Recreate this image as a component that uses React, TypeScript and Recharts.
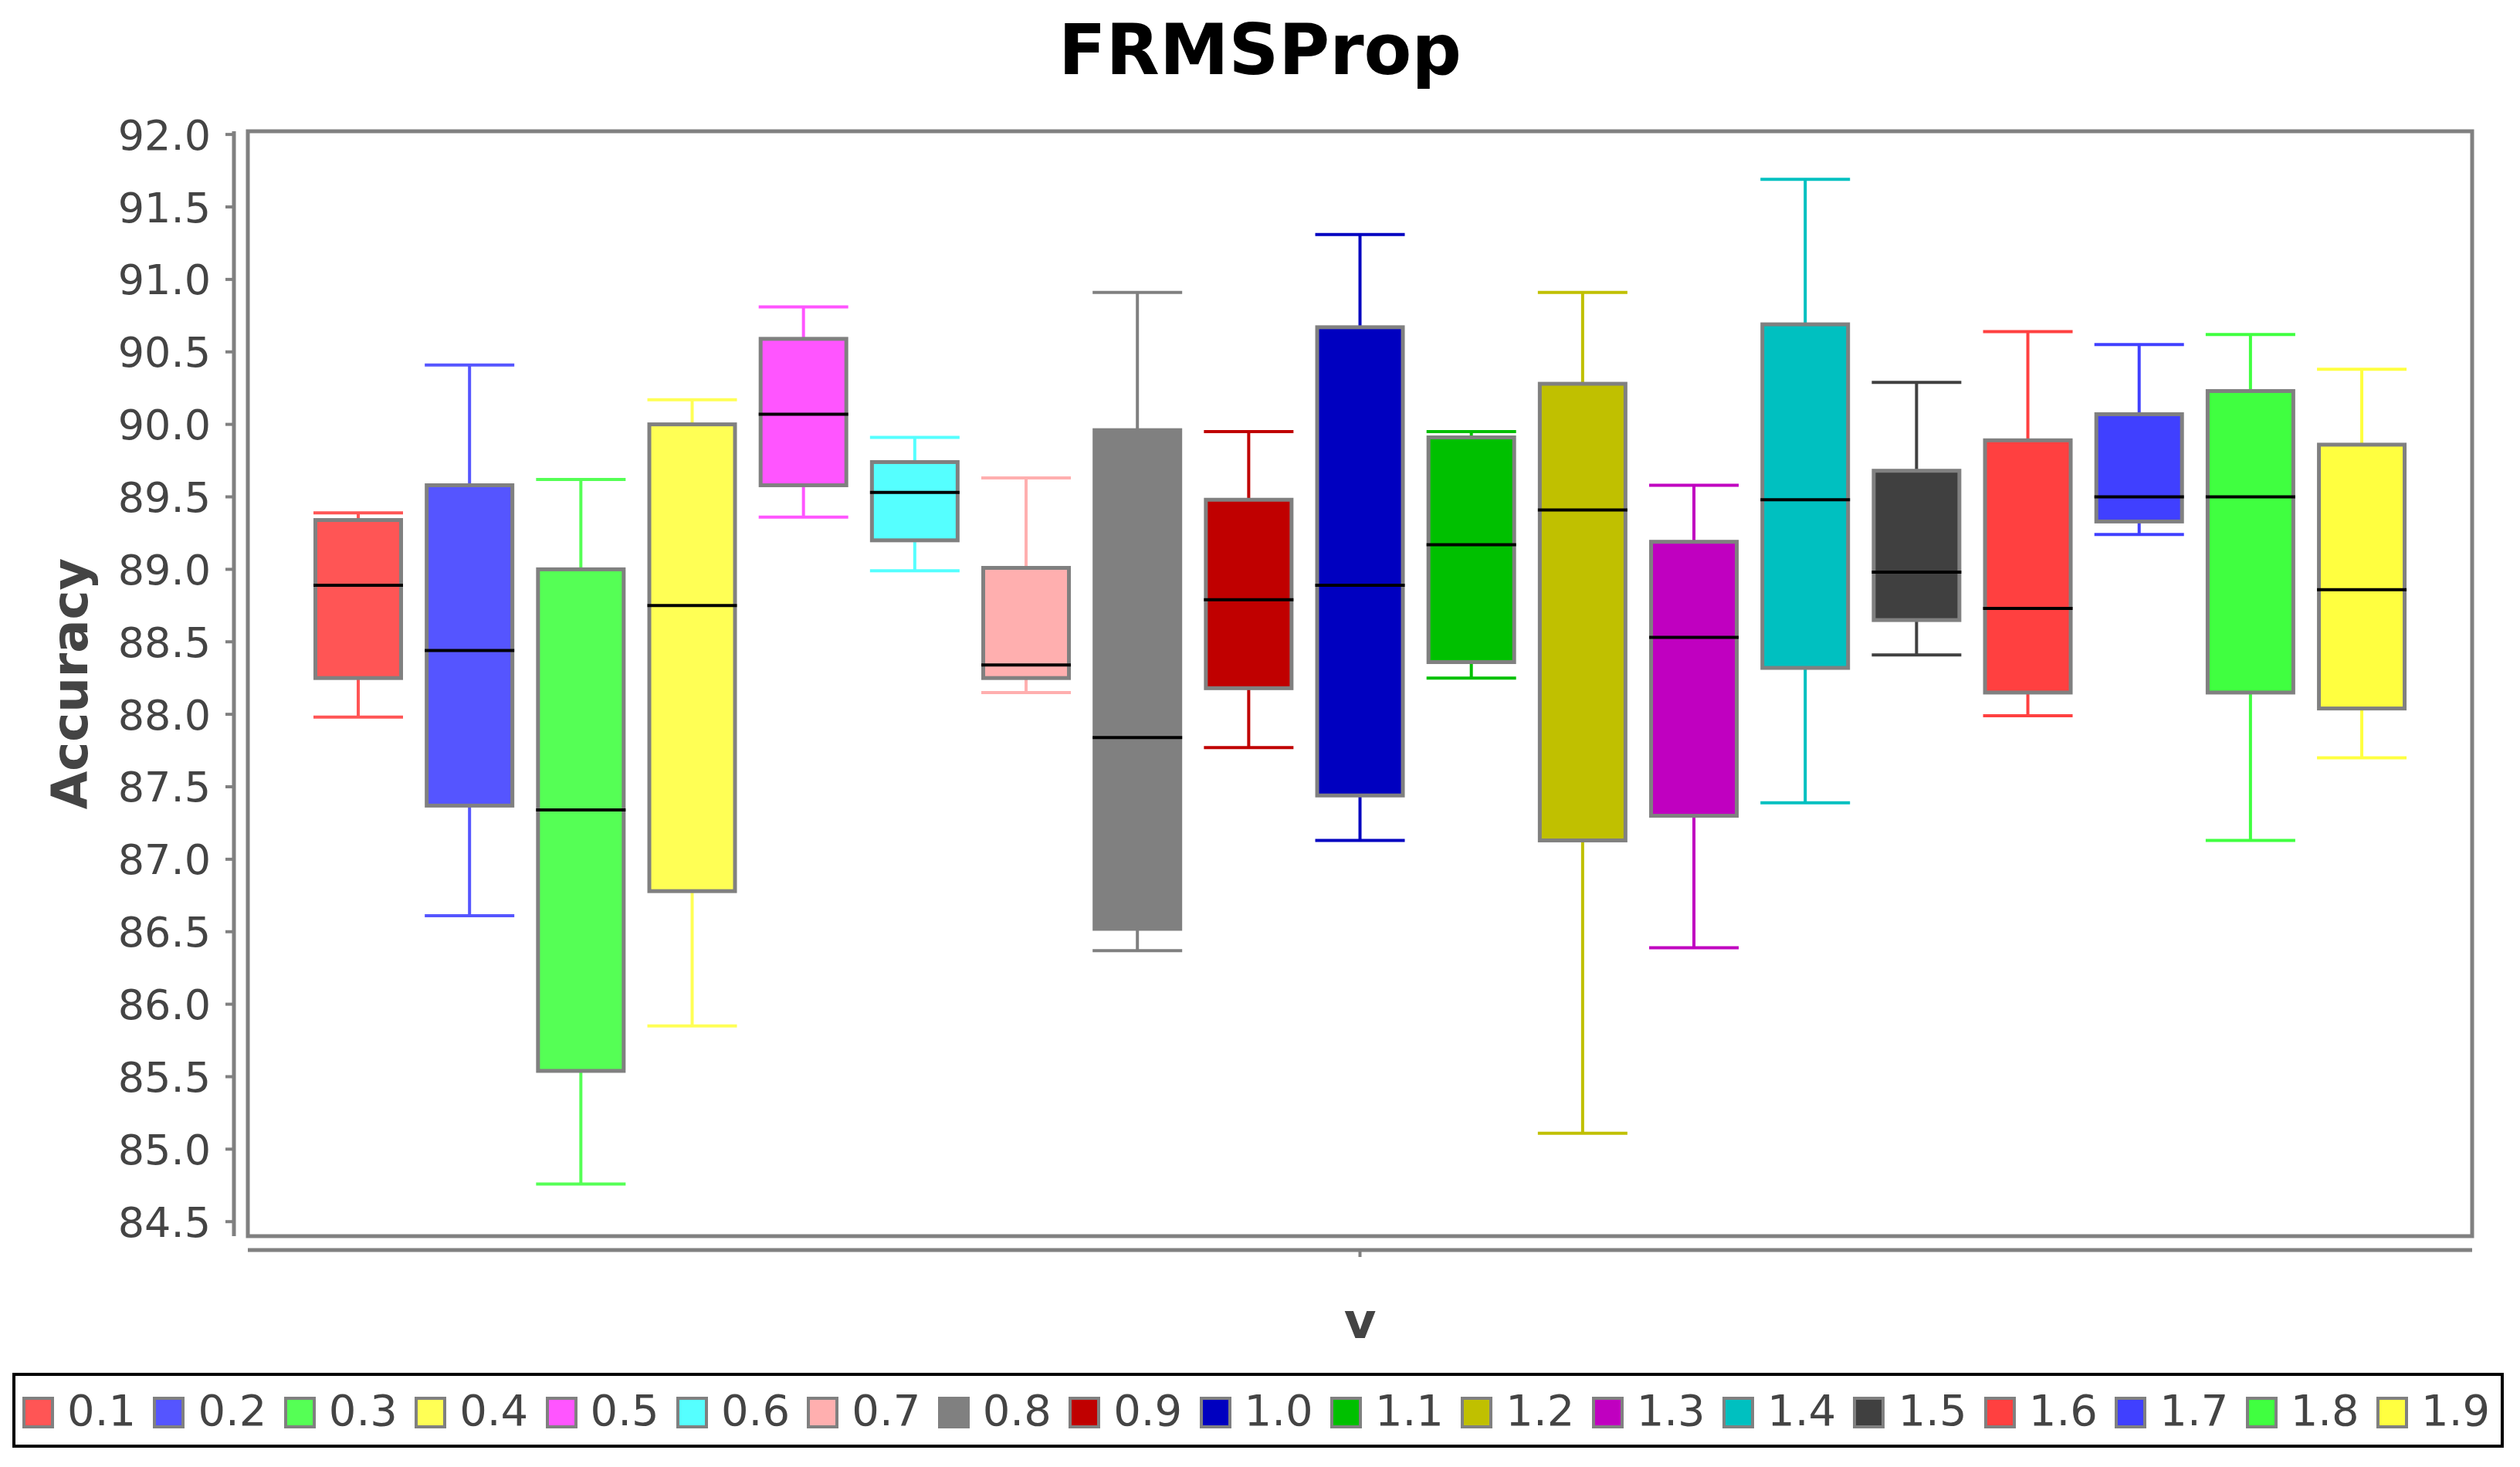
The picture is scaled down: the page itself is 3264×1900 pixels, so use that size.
import React from 'react';
import { BarChart, Bar, XAxis, YAxis, ReferenceArea, Legend } from 'recharts';

const chartTitle = 'FRMSProp';
const yAxisLabel = 'Accuracy';
const xCategory = 'v';

const categories = ['0.1', '0.2', '0.3', '0.4', '0.5', '0.6', '0.7', '0.8', '0.9', '1.0', '1.1', '1.2', '1.3', '1.4', '1.5', '1.6', '1.7', '1.8', '1.9'];
const seriesColors = ['#FF5555', '#5555FF', '#55FF55', '#FFFF55', '#FF55FF', '#55FFFF', '#FFAFAF', '#808080', '#C00000', '#0000C0', '#00C000', '#C0C000', '#C000C0', '#00C0C0', '#404040', '#FF4040', '#4040FF', '#40FF40', '#FFFF40'];

const mins = [87.98, 86.61, 84.76, 85.85, 89.36, 88.99, 88.15, 86.37, 87.77, 87.13, 88.25, 85.11, 86.39, 87.39, 88.41, 87.99, 89.24, 87.13, 87.70];
const q1s = [88.25, 87.37, 85.54, 86.78, 89.58, 89.20, 88.25, 86.52, 88.18, 87.44, 88.36, 87.13, 87.30, 88.32, 88.65, 88.15, 89.33, 88.15, 88.04];
const medians = [88.89, 88.44, 87.34, 88.75, 90.07, 89.53, 88.34, 87.84, 88.79, 88.89, 89.17, 89.41, 88.53, 89.48, 88.98, 88.73, 89.50, 89.50, 88.86];
const q3s = [89.34, 89.58, 89.00, 90.00, 90.59, 89.74, 89.01, 89.96, 89.48, 90.67, 89.91, 90.28, 89.19, 90.69, 89.68, 89.89, 90.07, 90.23, 89.86];
const maxs = [89.39, 90.41, 89.62, 90.17, 90.81, 89.91, 89.63, 90.91, 89.95, 91.31, 89.95, 90.91, 89.58, 91.69, 90.29, 90.64, 90.55, 90.62, 90.38];

const yTicks = [84.5, 85.0, 85.5, 86.0, 86.5, 87.0, 87.5, 88.0, 88.5, 89.0, 89.5, 90.0, 90.5, 91.0, 91.5, 92.0];
const yDomain: [number, number] = [84.4, 92.022];

const row: Record<string, any> = { name: xCategory };
categories.forEach((c, i) => {
  row[`s${i}`] = [mins[i], maxs[i]];
});
const data = [row];

const FONT = '"DejaVu Sans", sans-serif';
const W = 3248;
const H = 1884;
const AXIS_OFFSET = 18;
const Y_TICK_SIZE = 11;
const Y_TICK_MARGIN = 19;
const X_TICK_SIZE = 9;

const BoxShape = (props: any) => {
  const { x, y, width, height, idx } = props;
  if (x == null || y == null || width == null || height == null) return <g />;
  const top = Math.min(y, y + height);
  const h = Math.abs(height);
  const lo = mins[idx];
  const hi = maxs[idx];
  const k = h / (hi - lo);
  const yOf = (v: number) => top + (hi - v) * k;
  const cx = x + width / 2;
  const color = seriesColors[idx];
  return (
    <g>
      <line x1={cx} x2={cx} y1={yOf(hi)} y2={yOf(lo)} stroke={color} strokeWidth={4} />
      <line x1={x} x2={x + width} y1={yOf(hi)} y2={yOf(hi)} stroke={color} strokeWidth={4} />
      <line x1={x} x2={x + width} y1={yOf(lo)} y2={yOf(lo)} stroke={color} strokeWidth={4} />
      <rect
        x={x + 2.5}
        y={yOf(q3s[idx])}
        width={width - 5}
        height={yOf(q1s[idx]) - yOf(q3s[idx])}
        fill={color}
        stroke="#808080"
        strokeWidth={5}
      />
      <line x1={x} x2={x + width} y1={yOf(medians[idx])} y2={yOf(medians[idx])} stroke="#000000" strokeWidth={4} />
    </g>
  );
};

const XTick = (props: any) => {
  const { x, y, payload } = props;
  const axisY = y - X_TICK_SIZE + AXIS_OFFSET;
  return (
    <g>
      <line x1={x} x2={x} y1={axisY} y2={axisY + X_TICK_SIZE} stroke="#808080" strokeWidth={4} />
      <text x={x} y={y} dy={123} textAnchor="middle" fontFamily={FONT} fontWeight="bold" fontSize={64} fill="#444444">
        {payload && payload.value}
      </text>
    </g>
  );
};

const YTick = (props: any) => {
  const { x, y, payload } = props;
  const axisX = x + Y_TICK_MARGIN + Y_TICK_SIZE - AXIS_OFFSET;
  return (
    <g>
      <line x1={axisX - Y_TICK_SIZE} x2={axisX} y1={y} y2={y} stroke="#808080" strokeWidth={4} />
      <text
        x={x - AXIS_OFFSET}
        y={y}
        dy={19.5}
        textAnchor="end"
        fontFamily={FONT}
        fontSize={54}
        fill="#444444"
      >
        {Number(payload.value).toFixed(1)}
      </text>
    </g>
  );
};

const YLabelContent = (props: any) => {
  const vb = props.viewBox || {};
  const cx = (vb.x ?? 0) + 105;
  const cy = (vb.y ?? 162) + (vb.height ?? 1431) / 2;
  return (
    <text
      x={cx}
      y={cy}
      transform={`rotate(-90 ${cx} ${cy})`}
      textAnchor="middle"
      fontFamily={FONT}
      fontWeight="bold"
      fontSize={64}
      fill="#444444"
    >
      {yAxisLabel}
    </text>
  );
};

const LegendBox = () => (
  <div
    style={{
      boxSizing: 'border-box',
      width: 3227,
      height: 97,
      border: '4px solid #000000',
      background: '#ffffff',
      display: 'flex',
      alignItems: 'center',
      paddingLeft: 9,
      fontFamily: FONT,
      fontSize: 56,
      color: '#444444',
      overflow: 'visible',
    }}
  >
    {categories.map((c, i) => (
      <div key={c} style={{ flex: '0 0 169.4px', width: 169.4, display: 'flex', alignItems: 'center' }}>
        <span
          style={{
            display: 'inline-block',
            width: 41,
            height: 41,
            boxSizing: 'border-box',
            border: '4.5px solid #808080',
            background: seriesColors[i],
            marginRight: 17,
            marginTop: 5,
          }}
        />
        <span style={{ lineHeight: 1, whiteSpace: 'nowrap' }}>{c}</span>
      </div>
    ))}
  </div>
);

export default function App() {
  return (
    <div style={{ position: 'relative', width: W, height: H, background: '#ffffff' }}>
      <style>{`
        .recharts-yAxis .recharts-cartesian-axis-line { transform: translateX(-${AXIS_OFFSET}px); }
        .recharts-xAxis .recharts-cartesian-axis-line { transform: translateY(${AXIS_OFFSET}px); }
      `}</style>
      <div
        style={{
          position: 'absolute',
          top: 12,
          left: 0,
          width: W,
          textAlign: 'center',
          fontFamily: FONT,
          fontWeight: 'bold',
          fontSize: 90,
          lineHeight: '90px',
          color: '#000000',
          zIndex: 2,
        }}
      >
        {chartTitle}
      </div>
      <BarChart
        width={W}
        height={H}
        data={data}
        margin={{ top: 162, right: 54, bottom: 17, left: 0 }}
        barGap={28.17}
      >
        <ReferenceArea y1={yDomain[0]} y2={yDomain[1]} fill="none" stroke="#808080" strokeWidth={5} />
        <XAxis
          dataKey="name"
          type="category"
          height={177}
          tickLine={{ stroke: 'none' }}
          tickSize={X_TICK_SIZE}
          tickMargin={0}
          axisLine={{ stroke: '#808080', strokeWidth: 5 }}
          tick={<XTick />}
          interval={0}
        />
        <YAxis
          type="number"
          domain={yDomain}
          allowDataOverflow
          ticks={yTicks}
          interval={0}
          width={313}
          tickSize={Y_TICK_SIZE}
          tickMargin={Y_TICK_MARGIN}
          tick={<YTick />}
          tickLine={{ stroke: 'none' }}
          axisLine={{ stroke: '#808080', strokeWidth: 5 }}
          label={{ value: yAxisLabel, content: <YLabelContent /> }}
        />
        <Legend
          verticalAlign="bottom"
          wrapperStyle={{ left: 8, width: 3227, bottom: 17, height: 97 }}
          content={() => <LegendBox />}
        />
        {categories.map((c, i) => (
          <Bar
            key={c}
            dataKey={`s${i}`}
            name={c}
            fill={seriesColors[i]}
            barSize={116}
            isAnimationActive={false}
            shape={(p: any) => <BoxShape {...p} idx={i} />}
          />
        ))}
      </BarChart>
    </div>
  );
}
